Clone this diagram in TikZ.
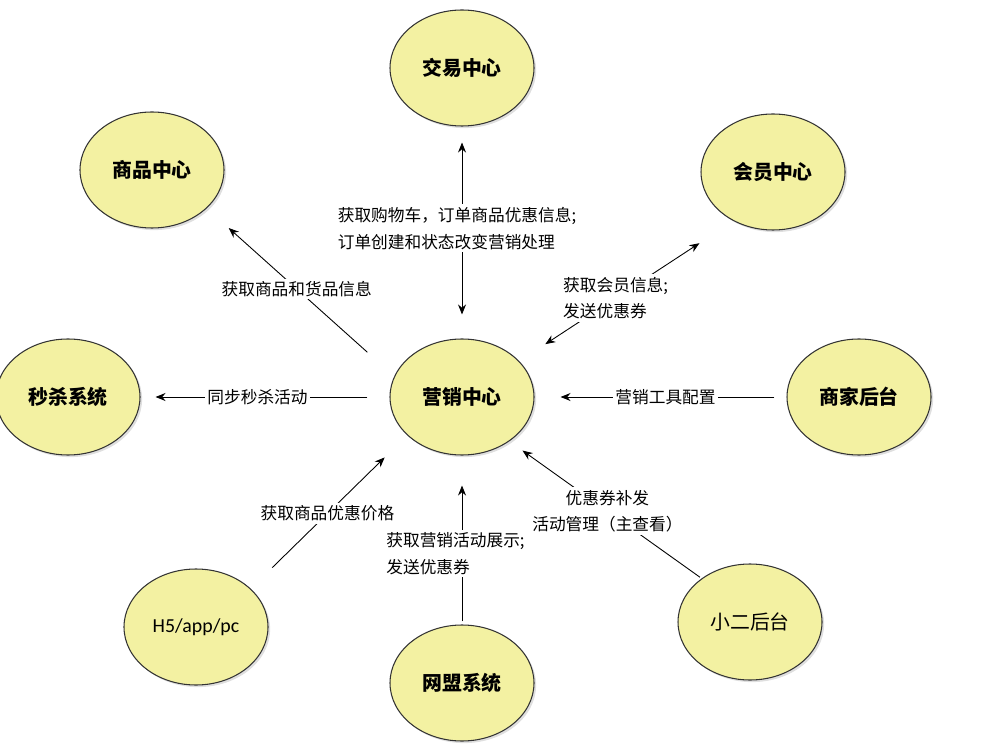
\documentclass[tikz,border=0pt]{standalone}
\usepackage{fontspec}
\setmainfont{Noto Sans CJK SC}
\newfontfamily\latinfont{Carlito}
\usetikzlibrary{shapes.geometric,arrows.meta,shadows}
\definecolor{pale}{HTML}{F3F1A2}
\tikzset{
  sys/.style={ellipse, draw=black!80, line width=0.6pt, fill=pale, minimum width=2.88cm, minimum height=2.32cm, font=\fontsize{11.3}{13}\selectfont\bfseries, drop shadow={shadow xshift=1.2pt, shadow yshift=-1.2pt, opacity=0.25}},
  plainsys/.style={sys, font=\fontsize{11.3}{13}\selectfont},
  arr/.style={-{Stealth[length=2mm, width=1.6mm]}, line width=0.5pt},
  dbl/.style={{Stealth[length=2mm, width=1.6mm]}-{Stealth[length=2mm, width=1.6mm]}, line width=0.5pt},
  lbl/.style={fill=white, inner sep=1.5pt, font=\fontsize{9.5}{15.3}\selectfont}}

\begin{document}
\begin{tikzpicture}
\useasboundingbox (0,0) rectangle (20.1,-15.02);
\node[sys] (jiaoyi) at (9.24,-1.36) {交易中心};
\node[sys] (shangpin) at (3.04,-3.40) {商品中心};
\node[sys] (huiyuan) at (15.46,-3.44) {会员中心};
\node[sys] (miaosha) at (1.36,-7.94) {秒杀系统};
\node[sys] (yingxiao) at (9.24,-7.94) {营销中心};
\node[sys] (shangjia) at (17.18,-7.94) {商家后台};
\node[plainsys, font=\fontsize{11.3}{13}\selectfont\latinfont] (hfive) at (3.92,-12.54) {H5/app/pc};
\node[sys] (wangmeng) at (9.24,-13.66) {网盟系统};
\node[plainsys] (xiaoer) at (15.00,-12.44) {小二后台};
\draw[dbl, shorten <=0.48cm, shorten >=0.32cm] (yingxiao.north) -- node[lbl, align=left, pos=0.52, xshift=-0.1cm] {获取购物车，订单商品优惠信息;\\订单创建和状态改变营销处理} (jiaoyi.south);
\draw[arr, shorten <=0.72cm, shorten >=0.59cm] (yingxiao.163) -- node[lbl, pos=0.52] {获取商品和货品信息} (shangpin.-35);
\draw[dbl, shorten <=0.62cm, shorten >=0.81cm] (yingxiao.32) -- node[lbl, align=left, pos=0.45] {获取会员信息;\\发送优惠券} (huiyuan.-129);
\draw[arr, shorten <=0.44cm, shorten >=0.3cm] (yingxiao.west) -- node[lbl, pos=0.53] {同步秒杀活动} (miaosha.east);
\draw[arr, shorten <=0.24cm, shorten >=0.52cm] (shangjia.west) -- node[lbl, pos=0.48] {营销工具配置} (yingxiao.east);
\draw[arr, shorten <=0.6cm, shorten >=0.63cm] (hfive.35) -- node[lbl, pos=0.49] {获取商品优惠价格} (yingxiao.-145);
\draw[arr, shorten <=0.06cm, shorten >=0.6cm] (wangmeng.north) -- node[lbl, align=left, pos=0.42, xshift=-0.13cm] {获取营销活动展示;\\发送优惠券} (yingxiao.south);
\draw[arr, shorten <=0.04cm, shorten >=0.32cm] (xiaoer.138) -- node[lbl, align=center, pos=0.49] {优惠券补发\\活动管理（主查看）} (yingxiao.-43);
\end{tikzpicture}
\end{document}
